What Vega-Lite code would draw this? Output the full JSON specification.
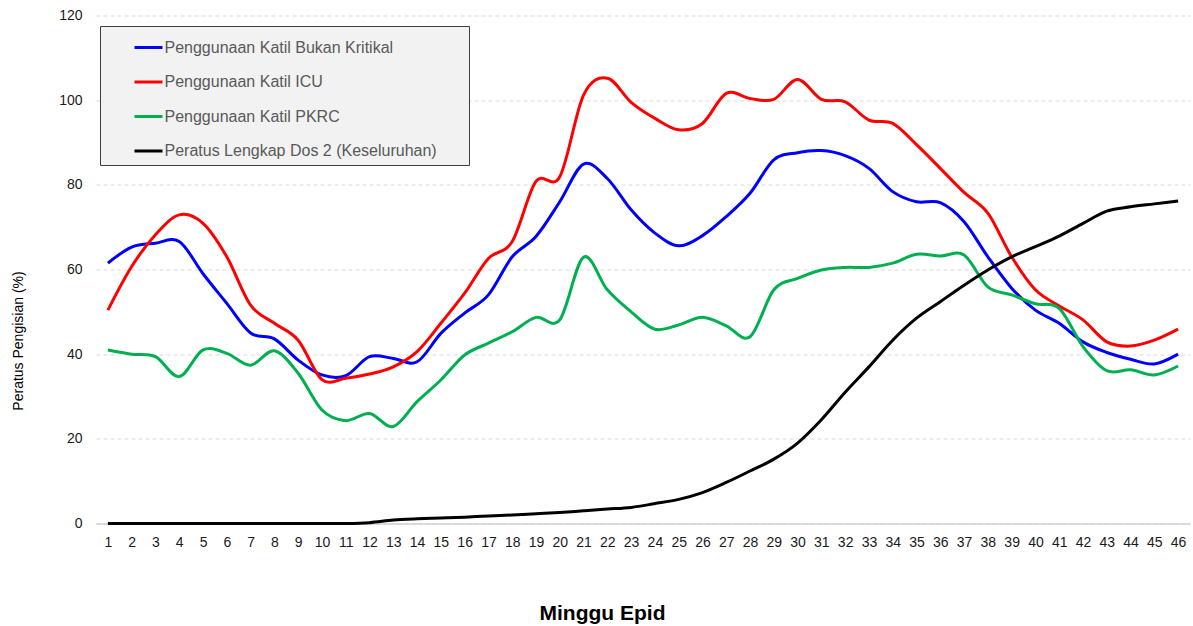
{
  "$schema": "https://vega.github.io/schema/vega-lite/v6.json",
  "autosize": "none",
  "padding": {"left": 96, "top": 15.5, "right": 3, "bottom": 102.5},
  "width": 1094,
  "height": 508,
  "background": "#ffffff",
  "config": {
    "view": {"stroke": null},
    "font": "Liberation Sans"
  },
  "data": {
    "values": [
      {"Minggu": 1, "Penggunaan Katil Bukan Kritikal": 61.5, "Penggunaan Katil ICU": 50.4, "Penggunaan Katil PKRC": 41.0, "Peratus Lengkap Dos 2 (Keseluruhan)": 0},
      {"Minggu": 2, "Penggunaan Katil Bukan Kritikal": 65.3, "Penggunaan Katil ICU": 60.7, "Penggunaan Katil PKRC": 40.0, "Peratus Lengkap Dos 2 (Keseluruhan)": 0},
      {"Minggu": 3, "Penggunaan Katil Bukan Kritikal": 66.2, "Penggunaan Katil ICU": 68.2, "Penggunaan Katil PKRC": 39.4, "Peratus Lengkap Dos 2 (Keseluruhan)": 0},
      {"Minggu": 4, "Penggunaan Katil Bukan Kritikal": 66.6, "Penggunaan Katil ICU": 72.9, "Penggunaan Katil PKRC": 34.7, "Peratus Lengkap Dos 2 (Keseluruhan)": 0},
      {"Minggu": 5, "Penggunaan Katil Bukan Kritikal": 59.0, "Penggunaan Katil ICU": 70.9, "Penggunaan Katil PKRC": 41.0, "Peratus Lengkap Dos 2 (Keseluruhan)": 0},
      {"Minggu": 6, "Penggunaan Katil Bukan Kritikal": 52.0, "Penggunaan Katil ICU": 63.0, "Penggunaan Katil PKRC": 40.2, "Peratus Lengkap Dos 2 (Keseluruhan)": 0},
      {"Minggu": 7, "Penggunaan Katil Bukan Kritikal": 45.0, "Penggunaan Katil ICU": 51.6, "Penggunaan Katil PKRC": 37.4, "Peratus Lengkap Dos 2 (Keseluruhan)": 0},
      {"Minggu": 8, "Penggunaan Katil Bukan Kritikal": 43.6, "Penggunaan Katil ICU": 47.3, "Penggunaan Katil PKRC": 40.8, "Peratus Lengkap Dos 2 (Keseluruhan)": 0},
      {"Minggu": 9, "Penggunaan Katil Bukan Kritikal": 38.6, "Penggunaan Katil ICU": 43.3, "Penggunaan Katil PKRC": 35.5, "Peratus Lengkap Dos 2 (Keseluruhan)": 0},
      {"Minggu": 10, "Penggunaan Katil Bukan Kritikal": 35.1, "Penggunaan Katil ICU": 34.0, "Penggunaan Katil PKRC": 26.8, "Peratus Lengkap Dos 2 (Keseluruhan)": 0},
      {"Minggu": 11, "Penggunaan Katil Bukan Kritikal": 34.9, "Penggunaan Katil ICU": 34.3, "Penggunaan Katil PKRC": 24.3, "Peratus Lengkap Dos 2 (Keseluruhan)": 0},
      {"Minggu": 12, "Penggunaan Katil Bukan Kritikal": 39.4, "Penggunaan Katil ICU": 35.3, "Penggunaan Katil PKRC": 26.0, "Peratus Lengkap Dos 2 (Keseluruhan)": 0.2},
      {"Minggu": 13, "Penggunaan Katil Bukan Kritikal": 39.0, "Penggunaan Katil ICU": 37.0, "Penggunaan Katil PKRC": 22.9, "Peratus Lengkap Dos 2 (Keseluruhan)": 0.8},
      {"Minggu": 14, "Penggunaan Katil Bukan Kritikal": 38.2, "Penggunaan Katil ICU": 40.6, "Penggunaan Katil PKRC": 28.8, "Peratus Lengkap Dos 2 (Keseluruhan)": 1.1},
      {"Minggu": 15, "Penggunaan Katil Bukan Kritikal": 44.9, "Penggunaan Katil ICU": 47.3, "Penggunaan Katil PKRC": 33.9, "Peratus Lengkap Dos 2 (Keseluruhan)": 1.3},
      {"Minggu": 16, "Penggunaan Katil Bukan Kritikal": 49.7, "Penggunaan Katil ICU": 54.4, "Penggunaan Katil PKRC": 39.8, "Peratus Lengkap Dos 2 (Keseluruhan)": 1.5},
      {"Minggu": 17, "Penggunaan Katil Bukan Kritikal": 54.0, "Penggunaan Katil ICU": 62.6, "Penggunaan Katil PKRC": 42.6, "Peratus Lengkap Dos 2 (Keseluruhan)": 1.8},
      {"Minggu": 18, "Penggunaan Katil Bukan Kritikal": 63.0, "Penggunaan Katil ICU": 66.6, "Penggunaan Katil PKRC": 45.3, "Peratus Lengkap Dos 2 (Keseluruhan)": 2.0},
      {"Minggu": 19, "Penggunaan Katil Bukan Kritikal": 67.8, "Penggunaan Katil ICU": 80.8, "Penggunaan Katil PKRC": 48.7, "Peratus Lengkap Dos 2 (Keseluruhan)": 2.3},
      {"Minggu": 20, "Penggunaan Katil Bukan Kritikal": 76.0, "Penggunaan Katil ICU": 81.9, "Penggunaan Katil PKRC": 48.1, "Peratus Lengkap Dos 2 (Keseluruhan)": 2.6},
      {"Minggu": 21, "Penggunaan Katil Bukan Kritikal": 84.9, "Penggunaan Katil ICU": 101.2, "Penggunaan Katil PKRC": 62.9, "Peratus Lengkap Dos 2 (Keseluruhan)": 3.0},
      {"Minggu": 22, "Penggunaan Katil Bukan Kritikal": 81.5, "Penggunaan Katil ICU": 105.2, "Penggunaan Katil PKRC": 55.2, "Peratus Lengkap Dos 2 (Keseluruhan)": 3.4},
      {"Minggu": 23, "Penggunaan Katil Bukan Kritikal": 74.1, "Penggunaan Katil ICU": 99.5, "Penggunaan Katil PKRC": 50.0, "Peratus Lengkap Dos 2 (Keseluruhan)": 3.8},
      {"Minggu": 24, "Penggunaan Katil Bukan Kritikal": 68.6, "Penggunaan Katil ICU": 95.7, "Penggunaan Katil PKRC": 45.9, "Peratus Lengkap Dos 2 (Keseluruhan)": 4.7},
      {"Minggu": 25, "Penggunaan Katil Bukan Kritikal": 65.6, "Penggunaan Katil ICU": 93.0, "Penggunaan Katil PKRC": 46.9, "Peratus Lengkap Dos 2 (Keseluruhan)": 5.7},
      {"Minggu": 26, "Penggunaan Katil Bukan Kritikal": 68.0, "Penggunaan Katil ICU": 94.5, "Penggunaan Katil PKRC": 48.7, "Peratus Lengkap Dos 2 (Keseluruhan)": 7.3},
      {"Minggu": 27, "Penggunaan Katil Bukan Kritikal": 72.5, "Penggunaan Katil ICU": 101.6, "Penggunaan Katil PKRC": 46.7, "Peratus Lengkap Dos 2 (Keseluruhan)": 9.7},
      {"Minggu": 28, "Penggunaan Katil Bukan Kritikal": 78.0, "Penggunaan Katil ICU": 100.4, "Penggunaan Katil PKRC": 44.1, "Peratus Lengkap Dos 2 (Keseluruhan)": 12.4},
      {"Minggu": 29, "Penggunaan Katil Bukan Kritikal": 85.9, "Penggunaan Katil ICU": 100.2, "Penggunaan Katil PKRC": 55.2, "Peratus Lengkap Dos 2 (Keseluruhan)": 15.2},
      {"Minggu": 30, "Penggunaan Katil Bukan Kritikal": 87.6, "Penggunaan Katil ICU": 104.9, "Penggunaan Katil PKRC": 57.9, "Peratus Lengkap Dos 2 (Keseluruhan)": 19.0},
      {"Minggu": 31, "Penggunaan Katil Bukan Kritikal": 88.1, "Penggunaan Katil ICU": 100.2, "Penggunaan Katil PKRC": 59.9, "Peratus Lengkap Dos 2 (Keseluruhan)": 24.5},
      {"Minggu": 32, "Penggunaan Katil Bukan Kritikal": 86.9, "Penggunaan Katil ICU": 99.6, "Penggunaan Katil PKRC": 60.5, "Peratus Lengkap Dos 2 (Keseluruhan)": 31.0},
      {"Minggu": 33, "Penggunaan Katil Bukan Kritikal": 83.9, "Penggunaan Katil ICU": 95.3, "Penggunaan Katil PKRC": 60.5, "Peratus Lengkap Dos 2 (Keseluruhan)": 37.0},
      {"Minggu": 34, "Penggunaan Katil Bukan Kritikal": 78.4, "Penggunaan Katil ICU": 94.5, "Penggunaan Katil PKRC": 61.5, "Peratus Lengkap Dos 2 (Keseluruhan)": 43.3},
      {"Minggu": 35, "Penggunaan Katil Bukan Kritikal": 76.0, "Penggunaan Katil ICU": 89.5, "Penggunaan Katil PKRC": 63.6, "Peratus Lengkap Dos 2 (Keseluruhan)": 48.5},
      {"Minggu": 36, "Penggunaan Katil Bukan Kritikal": 75.8, "Penggunaan Katil ICU": 83.9, "Penggunaan Katil PKRC": 63.2, "Peratus Lengkap Dos 2 (Keseluruhan)": 52.4},
      {"Minggu": 37, "Penggunaan Katil Bukan Kritikal": 71.3, "Penggunaan Katil ICU": 78.2, "Penggunaan Katil PKRC": 63.4, "Peratus Lengkap Dos 2 (Keseluruhan)": 56.3},
      {"Minggu": 38, "Penggunaan Katil Bukan Kritikal": 63.0, "Penggunaan Katil ICU": 73.3, "Penggunaan Katil PKRC": 55.9, "Peratus Lengkap Dos 2 (Keseluruhan)": 59.9},
      {"Minggu": 39, "Penggunaan Katil Bukan Kritikal": 55.6, "Penggunaan Katil ICU": 63.0, "Penggunaan Katil PKRC": 54.0, "Peratus Lengkap Dos 2 (Keseluruhan)": 63.0},
      {"Minggu": 40, "Penggunaan Katil Bukan Kritikal": 50.4, "Penggunaan Katil ICU": 55.2, "Penggunaan Katil PKRC": 51.9, "Peratus Lengkap Dos 2 (Keseluruhan)": 65.4},
      {"Minggu": 41, "Penggunaan Katil Bukan Kritikal": 47.3, "Penggunaan Katil ICU": 51.4, "Penggunaan Katil PKRC": 50.8, "Peratus Lengkap Dos 2 (Keseluruhan)": 67.9},
      {"Minggu": 42, "Penggunaan Katil Bukan Kritikal": 42.9, "Penggunaan Katil ICU": 48.1, "Penggunaan Katil PKRC": 41.8, "Peratus Lengkap Dos 2 (Keseluruhan)": 70.9},
      {"Minggu": 43, "Penggunaan Katil Bukan Kritikal": 40.4, "Penggunaan Katil ICU": 42.9, "Penggunaan Katil PKRC": 36.1, "Peratus Lengkap Dos 2 (Keseluruhan)": 73.8},
      {"Minggu": 44, "Penggunaan Katil Bukan Kritikal": 38.8, "Penggunaan Katil ICU": 41.9, "Penggunaan Katil PKRC": 36.3, "Peratus Lengkap Dos 2 (Keseluruhan)": 74.8},
      {"Minggu": 45, "Penggunaan Katil Bukan Kritikal": 37.7, "Penggunaan Katil ICU": 43.3, "Penggunaan Katil PKRC": 35.1, "Peratus Lengkap Dos 2 (Keseluruhan)": 75.5},
      {"Minggu": 46, "Penggunaan Katil Bukan Kritikal": 40.0, "Penggunaan Katil ICU": 45.9, "Penggunaan Katil PKRC": 37.2, "Peratus Lengkap Dos 2 (Keseluruhan)": 76.2}
    ]
  },
  "transform": [
    {"fold": ["Penggunaan Katil Bukan Kritikal", "Penggunaan Katil ICU", "Penggunaan Katil PKRC", "Peratus Lengkap Dos 2 (Keseluruhan)"], "as": ["Siri", "Nilai"]}
  ],
  "mark": {"type": "line", "interpolate": "cardinal", "strokeWidth": 3},
  "encoding": {
    "x": {
      "field": "Minggu", "type": "quantitative",
      "scale": {"domain": [0.5, 46.5], "nice": false, "zero": false},
      "axis": {
        "values": [1,2,3,4,5,6,7,8,9,10,11,12,13,14,15,16,17,18,19,20,21,22,23,24,25,26,27,28,29,30,31,32,33,34,35,36,37,38,39,40,41,42,43,44,45,46],
        "format": "d", "grid": false, "ticks": false,
        "domain": true, "domainColor": "#d0d0d0", "domainWidth": 1.5,
        "labelFont": "Liberation Sans", "labelFontSize": 14, "labelColor": "#1a1a1a", "labelPadding": 12,
        "labelAngle": 0, "labelOverlap": false, "labelFlush": false,
        "title": "Minggu Epid", "titleFont": "Liberation Sans", "titleFontSize": 21, "titleFontWeight": "bold",
        "titleColor": "#000000", "titleX": 506, "titleY": 96, "titleAlign": "center", "titleBaseline": "alphabetic"
      }
    },
    "y": {
      "field": "Nilai", "type": "quantitative",
      "scale": {"domain": [0, 120], "nice": false},
      "axis": {
        "values": [0, 20, 40, 60, 80, 100, 120],
        "grid": true, "gridColor": "#d9d9d9", "gridDash": [4, 3], "gridWidth": 1,
        "domain": false, "ticks": false,
        "labelFont": "Liberation Sans", "labelFontSize": 14, "labelColor": "#1a1a1a", "labelPadding": 14,
        "title": "Peratus Pengisian (%)", "titleFont": "Liberation Sans", "titleFontSize": 14, "titleFontWeight": "normal",
        "titleColor": "#000000", "titleAngle": -90, "titleX": -78, "titleY": 325, "titleAlign": "center", "titleBaseline": "middle"
      }
    },
    "color": {
      "field": "Siri", "type": "nominal",
      "scale": {
        "domain": ["Penggunaan Katil Bukan Kritikal", "Penggunaan Katil ICU", "Penggunaan Katil PKRC", "Peratus Lengkap Dos 2 (Keseluruhan)"],
        "range": ["#0000ff", "#ff0000", "#00b050", "#000000"]
      },
      "legend": {
        "title": null, "orient": "none", "legendX": 4, "legendY": 10.5,
        "fillColor": "#f2f2f2", "strokeColor": "#404040", "padding": 6,
        "symbolType": "stroke", "symbolSize": 784, "symbolStrokeWidth": 3, "symbolOffset": 27,
        "labelFont": "Liberation Sans", "labelFontSize": 16, "labelColor": "#595959", "labelOffset": 0.5,
        "rowPadding": 10.5, "labelLimit": 500,
        "labelExpr": "datum.label + '\u00a0\u00a0\u00a0\u00a0\u00a0\u2009\u200b'"
      }
    }
  }
}
